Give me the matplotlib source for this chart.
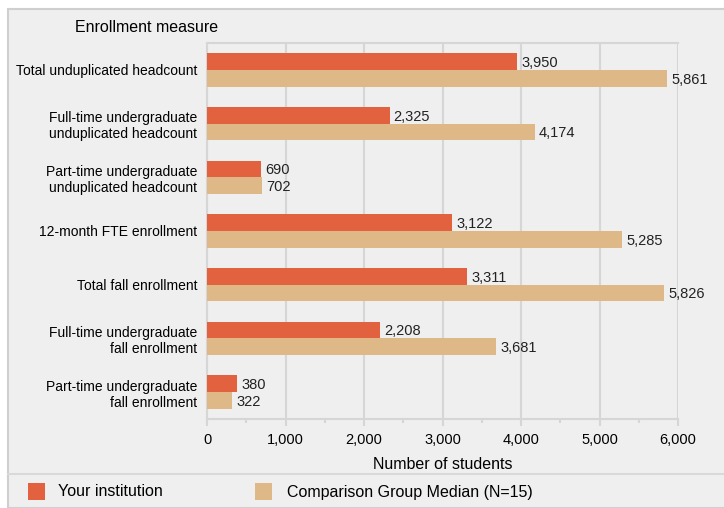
import numpy as np
import matplotlib.pyplot as plt
from matplotlib.patches import Rectangle
from matplotlib.ticker import MultipleLocator, FuncFormatter

plt.rcParams['font.family'] = ['Liberation Sans', 'DejaVu Sans']

categories = ['Total unduplicated headcount',
              'Full-time undergraduate\nunduplicated headcount',
              'Part-time undergraduate\nunduplicated headcount',
              '12-month FTE enrollment',
              'Total fall enrollment',
              'Full-time undergraduate\nfall enrollment',
              'Part-time undergraduate\nfall enrollment']
institution = [3950, 2325, 690, 3122, 3311, 2208, 380]
comparison = [5861, 4174, 702, 5285, 5826, 3681, 322]
series_names = ['Your institution', 'Comparison Group Median (N=15)']

orange = '#e2623f'
tan = '#deb887'
panel = '#efefef'
line = '#d6d6d6'

W, H = 724, 508
fig = plt.figure(figsize=(W / 100, H / 100), dpi=100)
fig.patch.set_facecolor('white')

# grey panels
fig.patches.append(Rectangle((8 / W, 0), 1, (H - 9) / H, transform=fig.transFigure,
                             facecolor=panel, edgecolor='#cfcfcf', lw=1.5, zorder=-10))
fig.lines.append(plt.Line2D([8 / W, 1], [1 - 474 / H] * 2, transform=fig.transFigure,
                            color='#d9d9d9', lw=1.5, zorder=-9))

ax = fig.add_axes([207 / W, 1 - 419 / H, (678 - 207) / W, (419 - 43) / H])
ax.set_facecolor(panel)

y = np.arange(len(categories))
h = 0.31
ax.barh(y - h / 2, institution, height=h, color=orange, zorder=3)
ax.barh(y + h / 2, comparison, height=h, color=tan, zorder=3)

for yi, v in zip(y, institution):
    ax.annotate(f'{v:,}', (v, yi - h / 2), xytext=(3, -1), textcoords='offset points',
                va='center', ha='left', fontsize=10.5, color='#222222')
for yi, v in zip(y, comparison):
    ax.annotate(f'{v:,}', (v, yi + h / 2), xytext=(3, -1), textcoords='offset points',
                va='center', ha='left', fontsize=10.5, color='#222222')

ax.set_xlim(0, 6000)
ax.set_ylim(len(categories) - 0.5, -0.5)
ax.set_yticks(y)
ax.set_yticklabels(categories, fontsize=10)
ax.tick_params(axis='y', length=0, pad=7)
ax.xaxis.set_major_locator(MultipleLocator(1000))
ax.xaxis.set_minor_locator(MultipleLocator(500))
ax.xaxis.set_major_formatter(FuncFormatter(lambda v, p: f'{int(v):,}'))
ax.tick_params(axis='x', which='major', length=5, width=1.5, color=line, labelsize=10.5, pad=5)
ax.tick_params(axis='x', which='minor', length=3, width=1.5, color=line)
ax.grid(axis='x', color=line, lw=1.5, zorder=1)
for s in ['left', 'top', 'bottom']:
    ax.spines[s].set_color(line)
    ax.spines[s].set_linewidth(1.5)
ax.spines['right'].set_visible(False)
ax.set_xlabel('Number of students', fontsize=11.5, labelpad=7)

fig.text(75 / W, 1 - 28 / H, 'Enrollment measure', fontsize=11.5, va='center', ha='left')

# legend
fig.patches.append(Rectangle((28 / W, 1 - 500 / H), 17 / W, 17 / H, transform=fig.transFigure,
                             facecolor=orange, edgecolor='none'))
fig.text(58 / W, 1 - 492 / H, series_names[0], fontsize=11.5, va='center', ha='left')
fig.patches.append(Rectangle((255 / W, 1 - 500 / H), 17 / W, 17 / H, transform=fig.transFigure,
                             facecolor=tan, edgecolor='none'))
fig.text(287 / W, 1 - 492 / H, series_names[1], fontsize=11.5, va='center', ha='left')

fig.savefig('out.png', dpi=100)
